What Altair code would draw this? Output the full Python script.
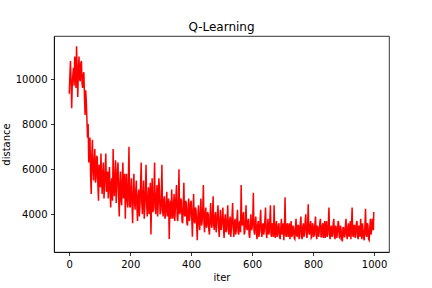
import altair as alt
import pandas as pd

# iteration index (every 2nd iteration sampled, plus the last one)
iters = list(range(0, 1000, 2)) + [999]

dist_000 = [9350, 10100, 10800, 9900, 8700, 9800, 10200, 10500, 9700, 11000,
            10600, 9600, 11450, 10300, 9200, 10400, 11000, 10000, 9900, 10700,
            10800, 9800, 9600, 10200, 10300, 9200, 8400, 9500, 9000, 8200,
            7400, 8000, 6300, 7000, 7400, 5800, 4900, 6600, 7300, 6000,
            5500, 6400, 6900, 5400, 5600, 6600, 6500, 5300, 4600, 6200]
dist_100 = [5900, 5200, 6700, 5600, 4900, 5800, 6300, 4700, 5300, 6000,
            6700, 5000, 5100, 5900, 4700, 5500, 6100, 5000, 4300, 5400,
            5600, 4600, 6900, 5300, 4800, 5700, 6400, 4500, 5200, 6000,
            6300, 4800, 3900, 5300, 5900, 4600, 4400, 5600, 6300, 4700,
            4900, 5800, 3800, 5200, 5800, 4600, 4300, 5500, 7000, 4400]
dist_200 = [4300, 5100, 5600, 4400, 3600, 4900, 5800, 4600, 4200, 5000,
            5500, 4300, 3700, 4800, 5100, 3900, 4400, 5300, 6300, 4500,
            4000, 4900, 5500, 3800, 4300, 5100, 6200, 4400, 3900, 4700,
            5200, 4000, 4600, 5400, 3100, 4500, 5600, 4100, 4200, 5000,
            6300, 4300, 4000, 4800, 5300, 3900, 4500, 5600, 5100, 4000]
dist_300 = [4100, 4700, 6200, 4200, 3900, 4600, 4800, 3800, 4000, 4500,
            5000, 3900, 4300, 4700, 2900, 4200, 4600, 3800, 5100, 4300,
            3800, 4400, 4900, 3700, 4200, 4800, 5300, 3900, 3700, 4500,
            6000, 4000, 4100, 4700, 4600, 3700, 3600, 4300, 5400, 4000,
            3900, 4600, 4500, 3600, 3500, 4300, 4700, 3700, 3900, 4500]
dist_400 = [4600, 3800, 3000, 4100, 4900, 3700, 3600, 4300, 4200, 3500,
            2850, 3900, 4400, 3600, 3300, 4100, 4700, 3500, 3700, 4200,
            5300, 3600, 3200, 4000, 4300, 3400, 3500, 4100, 4000, 3300,
            3100, 3900, 4500, 3600, 3400, 4000, 4800, 3500, 3300, 3900,
            4100, 3200, 3600, 4000, 4400, 3400, 3000, 3700, 4200, 3300]
dist_500 = [3500, 3900, 4300, 3400, 2950, 3700, 4000, 3200, 3300, 3800,
            4400, 3300, 3100, 3700, 3900, 3000, 3400, 3900, 4500, 3400,
            3000, 3600, 3800, 3100, 3300, 3800, 4200, 3200, 3100, 3600,
            3700, 3200, 5300, 3600, 3500, 3900, 4100, 3100, 3200, 3700,
            4400, 3400, 3300, 3700, 3800, 3100, 2950, 3500, 4000, 3300]
dist_600 = [3400, 3800, 4950, 3300, 3100, 3600, 3900, 3200, 2900, 3500,
            3700, 3000, 3200, 3700, 4200, 3300, 3000, 3500, 3600, 3100,
            3300, 3800, 4300, 3200, 2950, 3400, 3800, 3100, 3200, 3700,
            4400, 3100, 3000, 3600, 3500, 3000, 4400, 3300, 2950, 3500,
            3700, 3000, 3100, 3500, 3600, 3000, 2900, 3400, 3800, 3100]
dist_700 = [3200, 3600, 2850, 3400, 4750, 3100, 3000, 3500, 3600, 3000,
            3200, 3600, 2900, 3300, 3700, 3000, 3100, 3500, 3400, 2950,
            2900, 3400, 3800, 3100, 3000, 3500, 3500, 2900, 3100, 3600,
            3900, 3000, 2900, 3400, 3600, 3000, 3200, 3700, 4000, 3100,
            2950, 3500, 4450, 3200, 3100, 3500, 3700, 2950, 3000, 3600]
dist_800 = [3500, 3000, 3100, 3600, 3900, 3100, 2900, 3500, 3400, 3000,
            3200, 3600, 3800, 3000, 3000, 3500, 3600, 2950, 3300, 3700,
            2950, 3400, 3700, 3000, 3100, 3600, 4300, 3100, 2900, 3400,
            3500, 3000, 3100, 3600, 3800, 3000, 2900, 3500, 3400, 2950,
            3200, 3700, 3600, 3000, 2950, 3500, 3300, 2900, 2800, 3400]
dist_900 = [3400, 3000, 3000, 3500, 3800, 3100, 2900, 3400, 3600, 3000,
            3200, 3700, 2900, 3500, 4300, 3100, 3000, 3500, 3500, 2950,
            3100, 3600, 3700, 3000, 2900, 3500, 3400, 3000, 3800, 3200,
            2900, 3600, 3300, 2950, 2850, 3500, 4250, 3100, 3000, 3600,
            3500, 2900, 2850, 3400, 3800, 3100, 3300, 3800, 3400, 3300,
            4100]

distance = (dist_000 + dist_100 + dist_200 + dist_300 + dist_400 +
            dist_500 + dist_600 + dist_700 + dist_800 + dist_900)

n = min(len(iters), len(distance))
df = pd.DataFrame({"iter": iters[:n], "distance": distance[:n]})

x_ticks = [0, 200, 400, 600, 800, 1000]
y_ticks = [4000, 6000, 8000, 10000]

FONT = "DejaVu Sans"

chart = alt.Chart(df).mark_line(color="#ff0000", strokeWidth=1.5, clip=True).encode(
    x=alt.X("iter:Q",
            scale=alt.Scale(domain=[-50, 1049], nice=False, zero=False),
            axis=alt.Axis(values=x_ticks, title="iter", format="d",
                          titleX=167.5, titleY=25, titleAlign="center",
                          titleBaseline="middle")),
    y=alt.Y("distance:Q",
            scale=alt.Scale(domain=[2328, 11907], nice=False, zero=False),
            axis=alt.Axis(values=y_ticks, title="distance", format="d",
                          titleX=-48, titleY=108, titleAlign="center",
                          titleBaseline="middle", titleAngle=270)),
).properties(
    width=335,
    height=216,
    background="white",
    title=alt.TitleParams("Q-Learning", fontSize=12, font=FONT,
                          fontWeight="normal", color="#000", offset=2),
    autosize=alt.AutoSizeParams(type="none"),
    padding={"left": 54, "top": 36, "right": 43, "bottom": 36},
).configure_view(
    stroke="#000", strokeWidth=0.8
).configure_axis(
    grid=False,
    domainColor="#000", domainWidth=0.8,
    tickColor="#000", tickWidth=0.8, tickSize=3.5,
    labelFont=FONT, labelFontSize=10, labelColor="#000", labelPadding=3.5,
    titleFont=FONT, titleFontSize=10, titleColor="#000", titleFontWeight="normal",
)

chart.save("out.html", embed_options={"renderer": "svg", "actions": False})
